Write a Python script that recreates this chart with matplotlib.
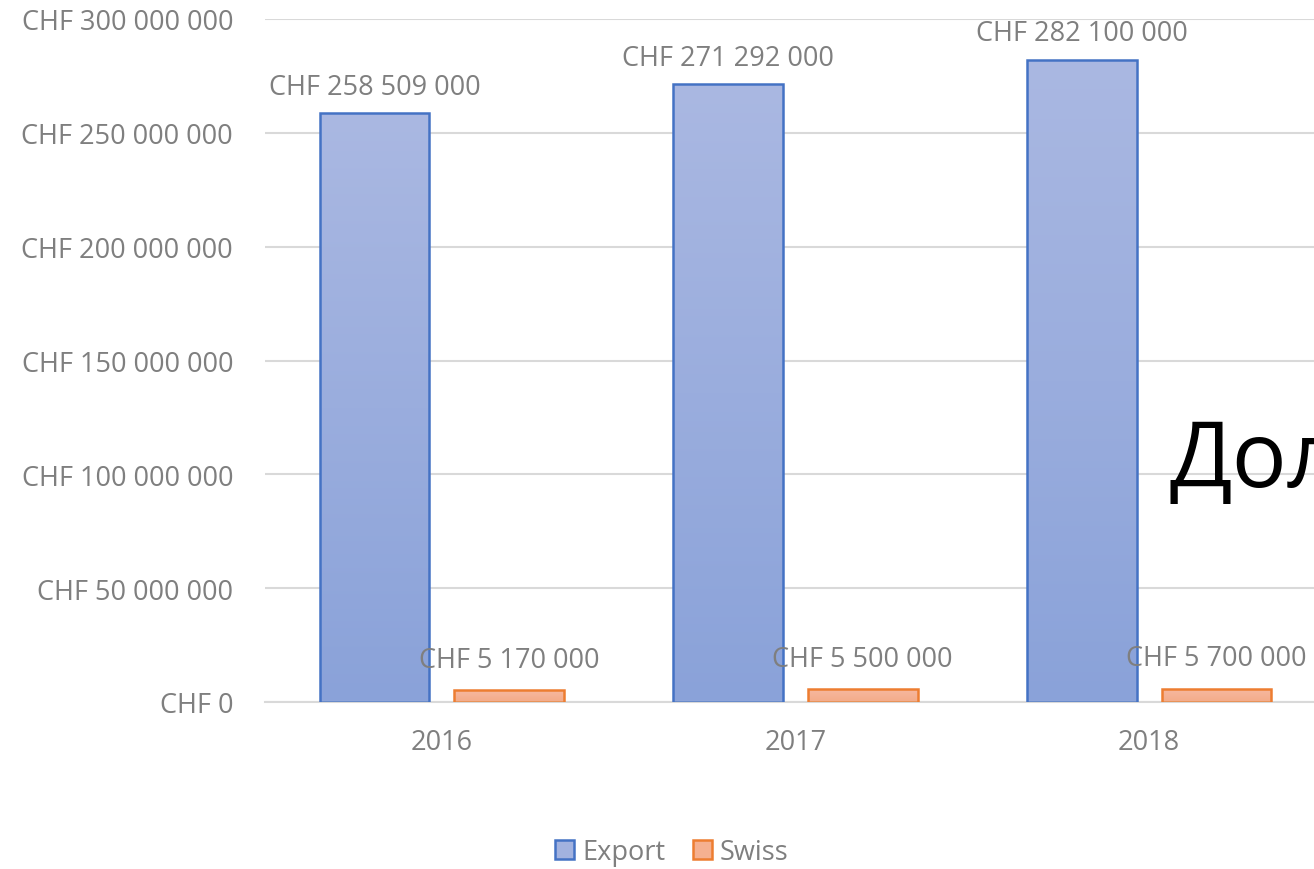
import matplotlib.pyplot as plt
import numpy as np
from matplotlib.patches import Patch

years = ["2016", "2017", "2018"]
export_vals = [258509000, 271292000, 282100000]
swiss_vals = [5170000, 5500000, 5700000]
y_ticks = [0, 50000000, 100000000, 150000000, 200000000, 250000000, 300000000]

plt.rcParams['font.family'] = ['Open Sans', 'DejaVu Sans']
FS = 19.5
GREY = "#7f7f7f"


def chf(v):
    return "CHF " + f"{v:,}".replace(",", " ")


def gradient_bars(ax, bars, top_color, bottom_color):
    grad = np.linspace(0, 1, 256).reshape(-1, 1)
    c0 = np.array(plt.matplotlib.colors.to_rgb(bottom_color))
    c1 = np.array(plt.matplotlib.colors.to_rgb(top_color))
    img = c0 + (c1 - c0) * grad[..., None]
    for b in bars:
        x, y = b.get_x(), b.get_y()
        w, h = b.get_width(), b.get_height()
        im = ax.imshow(img, extent=[x, x + w, y, y + h], origin="lower",
                       aspect="auto", zorder=2)
        im.set_clip_path(b)
        b.set_facecolor("none")


fig = plt.figure(figsize=(13.14, 8.70), dpi=100)
ax = fig.add_axes([265 / 1314, 1 - 703 / 870, 1061 / 1314, (703 - 20) / 870])

x = np.arange(len(years))
w = 0.31
b1 = ax.bar(x - 0.19, export_vals, w, edgecolor="#4472c4", linewidth=1.8, zorder=3)
b2 = ax.bar(x + 0.19, swiss_vals, w, edgecolor="#ed7d31", linewidth=1.8, zorder=3)
gradient_bars(ax, b1, "#aab8e2", "#8aa2d9")
gradient_bars(ax, b2, "#f6b8a0", "#f4ab88")

for bars, vals, off in ((b1, export_vals, 9), (b2, swiss_vals, 12)):
    for b, v in zip(bars, vals):
        ax.annotate(chf(v), (b.get_x() + b.get_width() / 2, v),
                    xytext=(0, off), textcoords="offset points",
                    ha="center", va="bottom", fontsize=FS, color=GREY, zorder=5)

ax.set_xlim(-0.5, 2.5)
ax.set_ylim(0, 300000000)
ax.set_yticks(y_ticks)
ax.set_yticklabels([chf(v) for v in y_ticks])
ax.set_xticks(x)
ax.set_xticklabels(years)
ax.tick_params(axis="y", length=0, pad=23, labelsize=FS, labelcolor=GREY)
ax.tick_params(axis="x", length=0, pad=19, labelsize=FS, labelcolor=GREY)
ax.grid(axis="y", color="#d9d9d9", linewidth=1.5, zorder=0)
ax.set_axisbelow(True)
for s in ("top", "right", "left"):
    ax.spines[s].set_visible(False)
ax.spines["bottom"].set_color("#d9d9d9")
ax.spines["bottom"].set_linewidth(1.5)

fig.text(1170 / 1314, 1 - 487 / 870, "Доля", fontsize=66, color="black",
         ha="left", va="baseline")

handles = [Patch(facecolor="#a2b2df", edgecolor="#4472c4", linewidth=1.8, label="Export"),
           Patch(facecolor="#f5b090", edgecolor="#ed7d31", linewidth=1.8, label="Swiss")]
fig.legend(handles=handles, loc="center", bbox_to_anchor=(672 / 1314, 1 - 853 / 870),
           ncol=2, frameon=False, fontsize=FS, labelcolor=GREY,
           handlelength=0.7, handleheight=0.7, handletextpad=0.3, columnspacing=1.0)

fig.savefig("out.png", dpi=100)
